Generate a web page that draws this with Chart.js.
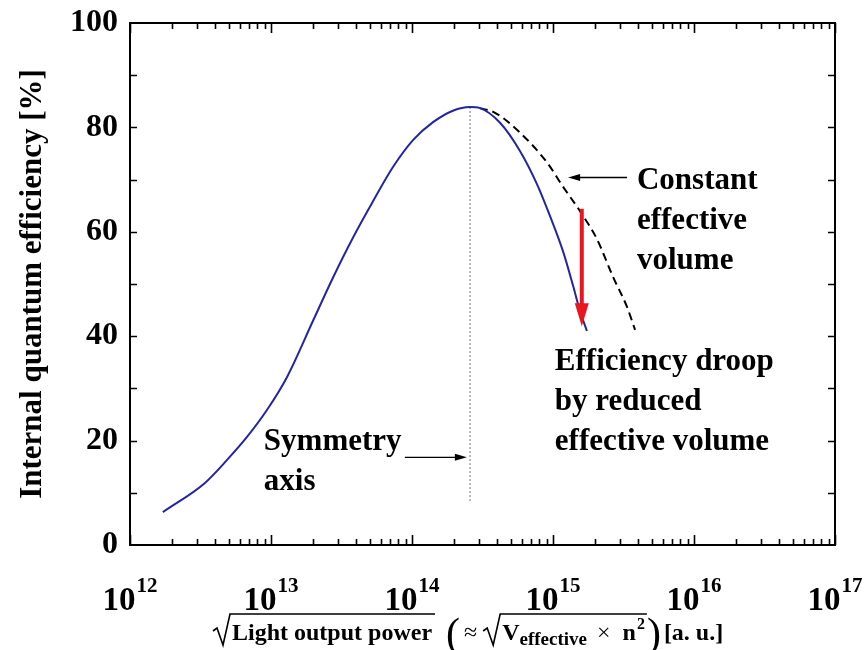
<!DOCTYPE html>
<html><head><meta charset="utf-8">
<script src="https://cdn.jsdelivr.net/npm/chart.js@4.4.1/dist/chart.umd.min.js"></script>
<style>html,body{margin:0;padding:0;background:#fff;}#wrap{width:865px;height:650px;}</style>
</head><body><div id="wrap"><canvas id="c" width="865" height="650"></canvas></div>
<script>
// ---- data ----
const blueX = [1.71e12, 3.40e12, 4.88e12, 6.76e12, 9.38e12, 1.30e13, 1.99e13, 2.75e13, 3.82e13, 5.28e13, 7.33e13, 1.02e14, 1.41e14, 1.95e14, 2.58e14, 3.03e14, 4.21e14, 5.83e14, 7.71e14, 9.53e14, 1.18e15, 1.39e15, 1.55e15, 1.74e15];
const blueY = [6.3, 11.9, 16.3, 20.7, 25.9, 32.2, 43.0, 51.2, 58.9, 65.8, 72.4, 77.6, 81.0, 83.2, 83.9, 83.7, 80.9, 75.5, 69.1, 63.0, 56.2, 49.6, 44.9, 41.0];
const dashX = [3.03e14, 3.88e14, 5.83e14, 9.06e14, 1.18e15, 1.55e15, 2.05e15, 2.67e15, 3.35e15, 3.82e15];
const dashY = [83.7, 82.8, 79.0, 73.3, 68.6, 64.0, 58.6, 51.3, 45.6, 41.2];
const symLineX = [2.58e14, 2.58e14];
const symLineY = [83.9, 8.2];
const droopArrowX = [1.60e15, 1.60e15];
const droopArrowY = [64.4, 41.9];
const symArrowX = [8.9e13, 2.45e14];
const symArrowY = [16.8, 16.8];
const constArrowX = [3.35e15, 1.28e15];
const constArrowY = [70.4, 70.4];
const yTickValues = [0, 20, 40, 60, 80, 100];
const xDecades = [12, 13, 14, 15, 16, 17];
const notes = [
  {x: 8.9e12, y: 18.2, text: 'Symmetry'},
  {x: 8.9e12, y: 10.5, text: 'axis'},
  {x: 3.94e15, y: 68.2, text: 'Constant'},
  {x: 3.94e15, y: 60.5, text: 'effective'},
  {x: 3.94e15, y: 52.9, text: 'volume'},
  {x: 1.03e15, y: 33.5, text: 'Efficiency droop'},
  {x: 1.03e15, y: 25.9, text: 'by reduced'},
  {x: 1.03e15, y: 18.2, text: 'effective volume'}
];
const yTitle = 'Internal quantum efficiency [%]';

const SERIF = '"Liberation Serif", "Times New Roman", serif';
const BLUE = '#2424a6';
const RED = '#e8161e';

function pts(xs, ys) { return xs.map((x, i) => ({x: x, y: ys[i]})); }

function arrowHead(ctx, x, y, dx, dy, len, half) {
  const n = Math.hypot(dx, dy), ux = dx / n, uy = dy / n;
  ctx.beginPath();
  ctx.moveTo(x, y);
  ctx.lineTo(x - ux * len - uy * half, y - uy * len + ux * half);
  ctx.lineTo(x - ux * len + uy * half, y - uy * len - ux * half);
  ctx.closePath();
  ctx.fill();
}

const decor = {
  id: 'decor',
  afterDraw(chart) {
    const {ctx, chartArea: {left, right, top, bottom}, scales: {x, y}} = chart;
    ctx.save();
    // frame
    ctx.strokeStyle = '#000';
    ctx.lineWidth = 2;
    ctx.strokeRect(left, top, right - left, bottom - top);
    // x ticks (log), inward on bottom and top
    ctx.lineWidth = 1.6;
    ctx.beginPath();
    for (let d = 12; d <= 17; d++) {
      for (let m = 1; m <= 9; m++) {
        if (d === 17 && m > 1) break;
        const px = Math.round(x.getPixelForValue(m * Math.pow(10, d))) + 0.5;
        const len = m === 1 ? 10 : 6;
        ctx.moveTo(px, bottom); ctx.lineTo(px, bottom - len);
        ctx.moveTo(px, top); ctx.lineTo(px, top + len);
      }
    }
    // y ticks every 10
    for (let v = 10; v < 100; v += 10) {
      const py = Math.round(y.getPixelForValue(v)) + 0.5;
      ctx.moveTo(left, py); ctx.lineTo(left + 7, py);
      ctx.moveTo(right, py); ctx.lineTo(right - 7, py);
    }
    ctx.stroke();

    // x tick labels 10^n
    ctx.fillStyle = '#000';
    ctx.textBaseline = 'alphabetic';
    ctx.textAlign = 'left';
    xDecades.forEach(d => {
      const px = x.getPixelForValue(Math.pow(10, d));
      ctx.font = 'bold 33px ' + SERIF;
      const w1 = ctx.measureText('10').width;
      ctx.font = 'bold 21px ' + SERIF;
      const w2 = ctx.measureText(String(d)).width;
      const start = px - (w1 + w2 + 1) / 2;
      ctx.font = 'bold 33px ' + SERIF;
      ctx.fillText('10', start, 610);
      ctx.font = 'bold 21px ' + SERIF;
      ctx.fillText(String(d), start + w1 + 1, 592);
    });

    // red droop arrow
    {
      const ax = x.getPixelForValue(droopArrowX[0]);
      const y0 = y.getPixelForValue(droopArrowY[0]);
      const y1 = y.getPixelForValue(droopArrowY[1]);
      ctx.strokeStyle = RED; ctx.fillStyle = RED; ctx.lineWidth = 4;
      ctx.beginPath(); ctx.moveTo(ax, y0); ctx.lineTo(ax, y1 - 18); ctx.stroke();
      arrowHead(ctx, ax, y1, 0, 1, 23, 7);
    }
    // black pointer arrows
    ctx.strokeStyle = '#000'; ctx.fillStyle = '#000'; ctx.lineWidth = 1.3;
    [[symArrowX, symArrowY], [constArrowX, constArrowY]].forEach(([ax, ay]) => {
      const x0 = x.getPixelForValue(ax[0]), x1 = x.getPixelForValue(ax[1]);
      const y0 = y.getPixelForValue(ay[0]), y1 = y.getPixelForValue(ay[1]);
      const dir = Math.sign(x1 - x0);
      ctx.beginPath(); ctx.moveTo(x0, y0); ctx.lineTo(x1 - dir * 8, y1); ctx.stroke();
      arrowHead(ctx, x1, y1, x1 - x0, y1 - y0, 12, 3.5);
    });

    // annotation text
    ctx.fillStyle = '#000';
    ctx.font = 'bold 31px ' + SERIF;
    ctx.textAlign = 'left';
    ctx.textBaseline = 'alphabetic';
    notes.forEach(n => ctx.fillText(n.text, x.getPixelForValue(n.x), y.getPixelForValue(n.y)));

    // x axis title: sqrt(Light output power) (≈ sqrt(V_effective × n^2)) [a. u.]
    const B = 640;
    let cx = 213;
    const radical = (x0, x1) => {
      ctx.strokeStyle = '#000'; ctx.lineWidth = 1.6;
      ctx.beginPath();
      ctx.moveTo(x0, B - 9);
      ctx.lineTo(x0 + 4, B - 12);
      ctx.lineTo(x0 + 10, B + 5);
      ctx.lineTo(x0 + 17, B - 26);
      ctx.lineTo(x1, B - 26);
      ctx.stroke();
    };
    ctx.font = 'bold 24px ' + SERIF;
    const t1 = 'Light output power';
    const w1 = ctx.measureText(t1).width;
    radical(cx, cx + 19 + w1 + 3);
    ctx.fillText(t1, cx + 19, B);
    cx += 19 + w1 + 14;
    ctx.font = '42px ' + SERIF;
    ctx.fillText('(', cx, B + 7);
    cx += ctx.measureText('(').width + 4;
    ctx.font = '24px ' + SERIF;
    ctx.fillText('\u2248', cx, B);
    cx += ctx.measureText('\u2248').width + 6;
    const r2 = cx;
    cx += 19;
    ctx.font = 'bold 24px ' + SERIF;
    ctx.fillText('V', cx, B);
    cx += ctx.measureText('V').width;
    ctx.font = 'bold 19px ' + SERIF;
    ctx.fillText('effective', cx, B + 5);
    cx += ctx.measureText('effective').width + 10;
    ctx.font = '24px ' + SERIF;
    ctx.fillText('\u00D7', cx, B);
    cx += ctx.measureText('\u00D7').width + 12;
    ctx.font = 'bold 24px ' + SERIF;
    ctx.fillText('n', cx, B);
    cx += ctx.measureText('n').width + 1;
    ctx.font = 'bold 16px ' + SERIF;
    ctx.fillText('2', cx, B - 11);
    cx += ctx.measureText('2').width + 2;
    radical(r2, cx);
    ctx.font = '42px ' + SERIF;
    ctx.fillText(')', cx, B + 7);
    cx += ctx.measureText(')').width + 3;
    ctx.font = 'bold 24px ' + SERIF;
    ctx.fillText('[a. u.]', cx, B);
    ctx.restore();
  }
};

new Chart(document.getElementById('c').getContext('2d'), {
  type: 'line',
  data: {
    datasets: [
      {data: pts(blueX, blueY), borderColor: BLUE, borderWidth: 2, pointRadius: 0, cubicInterpolationMode: 'monotone', fill: false},
      {data: pts(dashX, dashY), borderColor: '#000', borderWidth: 2, borderDash: [8, 5], pointRadius: 0, cubicInterpolationMode: 'monotone', fill: false},
      {data: pts(symLineX, symLineY), borderColor: '#8a8a8a', borderWidth: 1.2, borderDash: [2, 2], pointRadius: 0, fill: false}
    ]
  },
  options: {
    responsive: false,
    animation: false,
    devicePixelRatio: 1,
    layout: {padding: {top: 23, right: 30, left: 0, bottom: 0}},
    plugins: {legend: {display: false}, tooltip: {enabled: false}},
    scales: {
      x: {
        type: 'logarithmic', min: 1e12, max: 1e17,
        grid: {display: false, drawTicks: false}, border: {display: false},
        ticks: {display: false},
        afterFit(s) { s.height = 105; s.paddingLeft = 0; s.paddingRight = 0; }
      },
      y: {
        type: 'linear', min: 0, max: 100,
        afterBuildTicks(s) { s.ticks = yTickValues.map(v => ({value: v})); },
        grid: {display: false, drawTicks: false}, border: {display: false},
        ticks: {color: '#000', padding: 12, font: {family: SERIF, size: 32, weight: 'bold'}},
        title: {display: true, text: yTitle, color: '#000', font: {family: SERIF, size: 31, weight: 'bold'}, padding: {top: 14, bottom: 0}},
        afterFit(s) { s.width = 130; s.paddingTop = 0; s.paddingBottom = 0; }
      }
    }
  },
  plugins: [decor]
});
</script></body></html>
